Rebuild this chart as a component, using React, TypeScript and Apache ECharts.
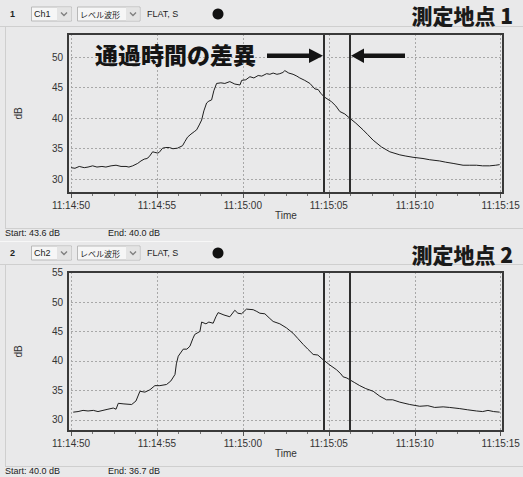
import React, { useEffect, useRef } from 'react';
import * as echarts from 'echarts';

// ---- data (seconds after 11:14:50, level in dB) ----
const timeTickLabels = ['11:14:50', '11:14:55', '11:15:00', '11:15:05', '11:15:10', '11:15:15'];

const topTimes = [
  0.0, 0.23, 0.48, 0.77, 0.99, 1.26, 1.51, 1.8, 2.03, 2.33, 2.62, 2.91, 3.2, 3.37, 3.59, 3.88, 4.07, 4.26,
  4.42, 4.55, 4.75, 4.88, 5.04, 5.13, 5.33, 5.52, 5.72, 5.93, 6.2, 6.49, 6.63, 6.78, 6.98, 7.17, 7.31, 7.46,
  7.6, 7.73, 7.89, 8.02, 8.18, 8.31, 8.47, 8.72, 8.95, 9.24, 9.53, 9.83, 9.93, 10.17, 10.41, 10.64, 10.89,
  11.1, 11.38, 11.57, 11.76, 11.98, 12.15, 12.33, 12.44, 12.67, 12.92, 13.14, 13.31, 13.6, 13.9, 14.19,
  14.38, 14.53, 14.73, 15.16, 15.41, 15.64, 15.93, 16.22, 16.57, 16.99, 17.27, 17.58, 18.06, 18.55, 19.13,
  19.48, 19.9, 20.48, 20.87, 21.45, 21.8, 22.23, 22.81, 23.2, 23.59, 23.95, 24.36, 24.71, 24.94,
];
const topLevels = [
  31.9, 31.8, 32.1, 31.9, 32.0, 32.2, 32.0, 32.1, 32.0, 32.2, 32.3, 32.1, 32.1, 32.0, 32.2, 32.6, 33.0, 33.3,
  33.4, 33.7, 34.5, 34.4, 34.3, 34.4, 35.1, 35.2, 35.2, 35.0, 35.1, 35.5, 36.2, 36.9, 37.4, 37.8, 38.1, 38.9,
  39.7, 41.2, 42.5, 42.8, 43.0, 44.5, 45.7, 45.8, 45.7, 46.0, 45.6, 45.45, 46.2, 46.3, 46.8, 46.6, 47.0,
  46.9, 47.3, 47.2, 47.4, 47.2, 47.3, 47.5, 47.8, 47.4, 47.2, 46.9, 46.6, 46.2, 45.7, 44.8,
  44.7, 44.1, 43.5, 42.7, 42.0, 41.1, 40.7, 40.0, 39.2, 38.1, 37.3, 36.4, 35.3, 34.5, 34.0,
  33.8, 33.6, 33.4, 33.2, 33.0, 32.8, 32.6, 32.3, 32.3, 32.3, 32.2, 32.2, 32.3, 32.4,
];

const bottomTimes = [
  0.13, 0.41, 0.7, 0.99, 1.3, 1.57, 1.86, 2.15, 2.46, 2.62, 2.75, 3.08, 3.53, 3.78, 4.01, 4.3, 4.59, 4.88,
  5.17, 5.56, 5.81, 6.05, 6.13, 6.24, 6.53, 6.74, 6.92, 7.09, 7.2, 7.5, 7.6, 7.85, 8.02, 8.27, 8.43, 8.56,
  8.9, 9.24, 9.53, 9.71, 9.92, 10.21, 10.6, 10.81, 10.99, 11.28, 11.57, 11.76, 12.15, 12.54, 12.92, 13.2,
  13.51, 13.78, 14.09, 14.36, 14.67, 15.06, 15.45, 15.7, 15.83, 16.05, 16.22, 16.51, 16.8, 17.15, 17.58,
  17.97, 18.35, 18.72, 19.13, 19.71, 20.29, 20.76, 21.16, 21.65, 22.03, 22.62, 23.08, 23.59, 23.95, 24.26,
  24.59, 24.94,
];
const bottomLevels = [
  31.3, 31.4, 31.6, 31.5, 31.6, 31.4, 31.6, 31.8, 32.0, 31.8, 32.8, 32.7, 32.6, 33.2, 34.85, 34.7, 35.1, 35.8,
  35.8, 36.0, 36.6, 37.7, 39.5, 40.8, 42.0, 42.0, 42.5, 43.8, 44.5, 45.0, 46.6, 46.3, 46.6, 46.4, 47.5, 48.2,
  47.8, 47.5, 48.6, 48.1, 48.0, 48.8, 48.7, 48.4, 48.1, 48.0, 47.2, 46.7, 46.3, 45.6, 44.7, 43.8,
  42.8, 42.0, 41.1, 41.0, 40.2, 39.3, 38.5, 37.8, 37.3, 37.1, 36.8, 36.3, 35.8, 35.3, 34.85,
  34.0, 33.4, 33.4, 33.0, 32.6, 32.3, 32.4, 32.1, 32.2, 32.1, 31.9, 31.7, 31.5, 31.4, 31.6,
  31.4, 31.3,
];

const cursorTimes = [14.71, 16.22];
const panelTitles = ['測定地点 1', '測定地点 2'];
const channelNames = ['Ch1', 'Ch2'];
const readouts = [
  ['Start: 43.6 dB', 'End: 40.0 dB'],
  ['Start: 40.0 dB', 'End: 36.7 dB'],
];
const yRanges = [
  [27.75, 53.8],
  [28.1, 55.1],
];

const UI_FONT = '"Liberation Sans", "Noto Sans CJK JP", sans-serif';
const CJK_FONT = '"Noto Sans CJK JP", sans-serif';

function header(idx: number, cy: number): any[] {
  const els: any[] = [];
  els.push({ type: 'text', x: 10, y: cy, style: { text: String(idx + 1), font: `bold 9px ${UI_FONT}`, fill: '#222', textVerticalAlign: 'middle', verticalAlign: 'middle' } });
  // Channel select
  els.push({ type: 'rect', shape: { x: 31.5, y: cy - 7, width: 40, height: 14 }, style: { fill: '#f6f6f6', stroke: '#b9b9b9', lineWidth: 1 } });
  els.push({ type: 'rect', shape: { x: 57, y: cy - 6.5, width: 14.5, height: 13 }, style: { fill: '#e4e4e4', stroke: null } });
  els.push({ type: 'polyline', shape: { points: [[61, cy - 1.5], [64, cy + 1.5], [67, cy - 1.5]] }, style: { stroke: '#808080', lineWidth: 1.4, fill: null } });
  els.push({ type: 'text', x: 34, y: cy, style: { text: channelNames[idx], font: `9px ${UI_FONT}`, fill: '#222', textVerticalAlign: 'middle', verticalAlign: 'middle' } });
  // Mode select
  els.push({ type: 'rect', shape: { x: 77.5, y: cy - 7, width: 62.5, height: 14 }, style: { fill: '#f6f6f6', stroke: '#b9b9b9', lineWidth: 1 } });
  els.push({ type: 'rect', shape: { x: 126, y: cy - 6.5, width: 13.5, height: 13 }, style: { fill: '#e4e4e4', stroke: null } });
  els.push({ type: 'polyline', shape: { points: [[130, cy - 1.5], [133, cy + 1.5], [136, cy - 1.5]] }, style: { stroke: '#808080', lineWidth: 1.4, fill: null } });
  els.push({ type: 'text', x: 80, y: cy, style: { text: 'レベル波形', font: `8px ${CJK_FONT}`, fill: '#222', textVerticalAlign: 'middle', verticalAlign: 'middle' } });
  els.push({ type: 'text', x: 147, y: cy, style: { text: 'FLAT, S', font: `9px ${UI_FONT}`, fill: '#222', textVerticalAlign: 'middle', verticalAlign: 'middle' } });
  els.push({ type: 'circle', shape: { cx: 218, cy, r: 5.5 }, style: { fill: '#111' } });
  els.push({ type: 'text', x: 513, y: cy + 0.5, style: { text: panelTitles[idx], font: `900 21px ${CJK_FONT}`, fill: '#1a1a1a', textAlign: 'right', align: 'right', textVerticalAlign: 'middle', verticalAlign: 'middle' } });
  return els;
}

export default function App() {
  const ref = useRef<HTMLDivElement>(null);
  useEffect(() => {
    if (!ref.current) return;
    const chart = echarts.init(ref.current, undefined, { renderer: 'svg' });
    const tops = [34, 272];
    const xAxes = tops.map((_, i) => ({
      type: 'value',
      gridIndex: i,
      min: 0,
      max: 25,
      interval: 5,
      name: 'Time',
      nameLocation: 'middle',
      nameGap: 16,
      nameTextStyle: { fontFamily: UI_FONT, fontSize: 10, color: '#333' },
      axisLine: { show: false, onZero: false },
      axisTick: { show: true, length: 5, lineStyle: { color: '#555' } },
      minorTick: { show: true, splitNumber: 4, length: 3, lineStyle: { color: '#777' } },
      axisLabel: {
        margin: 7,
        fontFamily: UI_FONT,
        fontSize: 10,
        color: '#333',
        formatter: (v: number) => timeTickLabels[Math.round(v / 5)] ?? '',
      },
      splitLine: { show: true, lineStyle: { color: '#a8a8a8', type: [2, 2], width: 1 } },
    }));
    const yAxes = tops.map((_, i) => ({
      type: 'value',
      gridIndex: i,
      min: yRanges[i][0],
      max: yRanges[i][1],
      splitNumber: 5,
      name: 'dB',
      nameLocation: 'middle',
      nameGap: 48,
      nameTextStyle: { fontFamily: UI_FONT, fontSize: 10, color: '#333' },
      axisLine: { show: false },
      axisTick: { show: false },
      axisLabel: {
        margin: 8,
        fontFamily: UI_FONT,
        fontSize: 10,
        color: '#333',
        showMinLabel: true,
        showMaxLabel: true,
        formatter: (v: number) => (Math.abs(v / 5 - Math.round(v / 5)) < 1e-6 ? String(Math.round(v)) : ''),
      },
      splitLine: { show: true, lineStyle: { color: '#a8a8a8', type: [2, 2], width: 1 } },
    }));
    const seriesData = [
      topTimes.map((t, i) => [t, topLevels[i]]),
      bottomTimes.map((t, i) => [t, bottomLevels[i]]),
    ];
    const series = seriesData.map((d, i) => ({
      type: 'line',
      xAxisIndex: i,
      yAxisIndex: i,
      data: d,
      showSymbol: false,
      symbol: 'none',
      lineStyle: { color: '#1e1e1e', width: 1 },
      silent: true,
      markLine: {
        silent: true,
        symbol: ['none', 'none'],
        label: { show: false },
        lineStyle: { color: '#2e2e2e', width: 2, type: 'solid' },
        emphasis: { disabled: true },
        data: cursorTimes.map((t) => ({ xAxis: t })),
      },
    }));

    const graphic: any[] = [];
    // panel separators
    const lineStyle = { stroke: '#cfcfcf', lineWidth: 1 };
    graphic.push({ type: 'line', shape: { x1: 0, y1: 26.5, x2: 523, y2: 26.5 }, style: lineStyle });
    graphic.push({ type: 'line', shape: { x1: 5, y1: 228.5, x2: 523, y2: 228.5 }, style: lineStyle });
    graphic.push({ type: 'line', shape: { x1: 0, y1: 241.5, x2: 213, y2: 241.5 }, style: { stroke: '#f7f7f7', lineWidth: 1 } });
    graphic.push({ type: 'line', shape: { x1: 0, y1: 264.5, x2: 523, y2: 264.5 }, style: lineStyle });
    graphic.push({ type: 'line', shape: { x1: 5, y1: 466.5, x2: 523, y2: 466.5 }, style: lineStyle });
    graphic.push({ type: 'line', shape: { x1: 5.5, y1: 27, x2: 5.5, y2: 228 }, style: lineStyle });
    graphic.push({ type: 'line', shape: { x1: 5.5, y1: 265, x2: 5.5, y2: 466 }, style: lineStyle });
    // headers
    graphic.push(...header(0, 14));
    graphic.push(...header(1, 253));
    // frames
    tops.forEach((t) => {
      graphic.push({ type: 'rect', z: 10, shape: { x: 68, y: t, width: 435, height: 159 }, style: { fill: 'none', stroke: '#3a3a3a', lineWidth: 2 } });
    });
    // readouts
    graphic.push({ type: 'text', x: 5, y: 233, style: { text: readouts[0][0], font: `9px ${UI_FONT}`, fill: '#222', textVerticalAlign: 'middle', verticalAlign: 'middle' } });
    graphic.push({ type: 'text', x: 108, y: 233, style: { text: readouts[0][1], font: `9px ${UI_FONT}`, fill: '#222', textVerticalAlign: 'middle', verticalAlign: 'middle' } });
    graphic.push({ type: 'text', x: 5, y: 471, style: { text: readouts[1][0], font: `9px ${UI_FONT}`, fill: '#222', textVerticalAlign: 'middle', verticalAlign: 'middle' } });
    graphic.push({ type: 'text', x: 108, y: 471, style: { text: readouts[1][1], font: `9px ${UI_FONT}`, fill: '#222', textVerticalAlign: 'middle', verticalAlign: 'middle' } });
    // annotation
    graphic.push({ type: 'text', z: 20, x: 95, y: 54, style: { text: '通過時間の差異', font: `900 23px ${CJK_FONT}`, fill: '#141414', textVerticalAlign: 'middle', verticalAlign: 'middle' } });
    graphic.push({ type: 'rect', z: 20, shape: { x: 267, y: 53.5, width: 44, height: 4.5 }, style: { fill: '#141414' } });
    graphic.push({ type: 'polygon', z: 20, shape: { points: [[309, 48.5], [323, 55.8], [309, 63]] }, style: { fill: '#141414' } });
    graphic.push({ type: 'rect', z: 20, shape: { x: 362, y: 53.5, width: 43, height: 4.5 }, style: { fill: '#141414' } });
    graphic.push({ type: 'polygon', z: 20, shape: { points: [[351, 55.8], [364, 48.5], [364, 63]] }, style: { fill: '#141414' } });

    chart.setOption({
      animation: false,
      backgroundColor: '#e9e9ea',
      grid: tops.map((t) => ({ left: 71, right: 22.3, top: t, height: 159, containLabel: false })),
      xAxis: xAxes,
      yAxis: yAxes,
      series,
      graphic,
    });
    return () => chart.dispose();
  }, []);
  return <div ref={ref} style={{ position: 'fixed', left: 0, top: 0, width: 523, height: 477 }} />;
}
